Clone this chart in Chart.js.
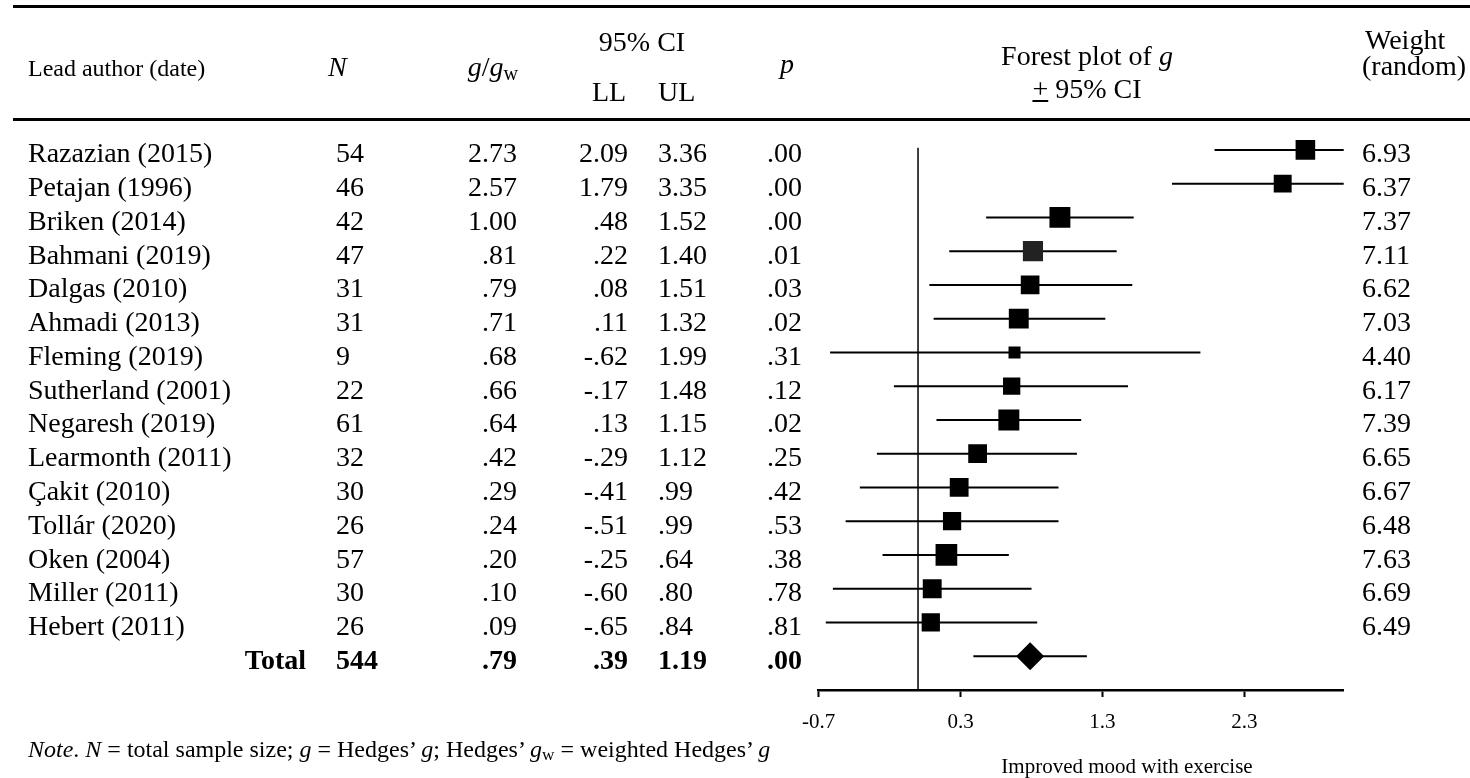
<!DOCTYPE html>
<html>
<head>
<meta charset="utf-8">
<title>Forest plot</title>
<script src="https://cdn.jsdelivr.net/npm/chart.js@4.4.1/dist/chart.umd.min.js"></script>
<style>
  html, body { margin: 0; padding: 0; background: #fff; }
  #page { position: relative; width: 1470px; height: 778px; overflow: hidden;
          font-family: "Liberation Serif", "Times New Roman", serif; color: #000; }
  #forest { position: absolute; left: 0; top: 0; }
  .t { position: absolute; white-space: nowrap; line-height: 1; }
  .sub { font-size: 0.72em; font-style: normal; vertical-align: -0.18em; }
  .rule { position: absolute; left: 13px; right: 0; height: 3px; background: #000; }
</style>
</head>
<body>
<div id="page">
  <div class="rule" style="top:5px"></div>
  <div class="rule" style="top:118px"></div>
  <canvas id="forest" width="1470" height="778"></canvas>
  <div id="labels"></div>
</div>
<script>
// study rows, top to bottom
const studyLabels = [
  'Razazian (2015)', 'Petajan (1996)', 'Briken (2014)', 'Bahmani (2019)',
  'Dalgas (2010)', 'Ahmadi (2013)', 'Fleming (2019)', 'Sutherland (2001)',
  'Negaresh (2019)', 'Learmonth (2011)', 'Çakit (2010)', 'Tollár (2020)',
  'Oken (2004)', 'Miller (2011)', 'Hebert (2011)',
];
const sampleSizes = [54, 46, 42, 47, 31, 31, 9, 22, 61, 32, 30, 26, 57, 30, 26];
const hedgesG = [2.73, 2.57, 1.00, .81, .79, .71, .68, .66, .64, .42, .29, .24, .20, .10, .09];
const lowerCI = [2.09, 1.79, .48, .22, .08, .11, -.62, -.17, .13, -.29, -.41, -.51, -.25, -.60, -.65];
const upperCI = [3.36, 3.35, 1.52, 1.40, 1.51, 1.32, 1.99, 1.48, 1.15, 1.12, .99, .99, .64, .80, .84];
const pValues = ['.00', '.00', '.00', '.01', '.03', '.02', '.31', '.12', '.02', '.25', '.42', '.53', '.38', '.78', '.81'];
const weights = [6.93, 6.37, 7.37, 7.11, 6.62, 7.03, 4.40, 6.17, 7.39, 6.65, 6.67, 6.48, 7.63, 6.69, 6.49];

// pooled (random effects) row
const totalN = 544;
const totalG = .79;
const totalLower = .39;
const totalUpper = 1.19;
const totalP = '.00';

const tickValues = [-0.7, 0.3, 1.3, 2.3];
const axisMin = -0.7;
const axisMax = 3.0;

const totalRow = studyLabels.length;

// APA style: drop the leading zero
const fmt = (v) => v.toFixed(2).replace(/^(-?)0\./, '$1.');

// square side grows with the study weight
const markerRadius = (w) => (12 + (w - 4.4) * 3.0) / Math.SQRT2;

const layer = document.getElementById('labels');
const put = (html, x, baseline, align = 'left', size = 28) => {
  const el = document.createElement('div');
  el.className = 't';
  el.innerHTML = html;
  el.style.fontSize = size + 'px';
  el.style.top = (baseline - 0.8375 * size) + 'px';
  if (align === 'right') {
    el.style.right = (1470 - x) + 'px';
  } else {
    el.style.left = x + 'px';
  }
  if (align === 'center') el.style.transform = 'translateX(-50%)';
  layer.appendChild(el);
};

// header
put('Lead author (date)', 28, 76, 'left', 24);
put('<i>N</i>', 328, 76);
put('<i>g</i>/<i>g<span class="sub">w</span></i>', 518, 76, 'right');
put('95% CI', 642, 51, 'center');
put('LL', 592, 101);
put('UL', 658, 101);
put('<i>p</i>', 780, 73);
put('Forest plot of <i>g</i>', 1087, 65, 'center');
put('<u>+</u> 95% CI', 1087, 98, 'center');
put('Weight', 1365, 49);
put('(random)', 1362, 75);

put('<i>Note</i>. <i>N</i> = total sample size; <i>g</i> = Hedges’ <i>g</i>; Hedges’ <i>g</i><span class="sub">w</span> = weighted Hedges’ <i>g</i>', 28, 757, 'left', 24);
put('Improved mood with exercise', 1127, 774, 'center', 21);

let rowsBuilt = false;
const tableRows = {
  id: 'tableRows',
  afterRender(chart) {
    if (rowsBuilt) return;
    rowsBuilt = true;
    const yScale = chart.scales.y;
    studyLabels.forEach((name, i) => {
      const base = yScale.getPixelForValue(i) + 13;
      put(name, 28, base);
      put(String(sampleSizes[i]), 336, base);
      put(fmt(hedgesG[i]), 517, base, 'right');
      put(fmt(lowerCI[i]), 628, base, 'right');
      put(fmt(upperCI[i]), 658, base);
      put(pValues[i], 802, base, 'right');
      put(weights[i].toFixed(2), 1362, base);
    });
    const base = yScale.getPixelForValue(totalRow) + 13;
    put('<b>Total</b>', 306, base, 'right');
    put('<b>' + totalN + '</b>', 336, base);
    put('<b>' + fmt(totalG) + '</b>', 517, base, 'right');
    put('<b>' + fmt(totalLower) + '</b>', 628, base, 'right');
    put('<b>' + fmt(totalUpper) + '</b>', 658, base);
    put('<b>' + totalP + '</b>', 802, base, 'right');
  },
};

const ciLines = lowerCI.map((lo, i) => ({
  data: [{ x: lo, y: i }, { x: upperCI[i], y: i }],
  showLine: true,
  borderColor: '#000',
  borderWidth: 2,
  pointRadius: 0,
}));

new Chart(document.getElementById('forest'), {
  type: 'scatter',
  data: {
    datasets: [
      {
        data: hedgesG.map((g, i) => ({ x: g, y: i })),
        pointStyle: 'rect',
        pointRadius: weights.map(markerRadius),
        backgroundColor: hedgesG.map((g, i) => (i === 3 ? '#222' : '#000')),
        borderWidth: 0,
      },
      {
        data: [{ x: totalG, y: totalRow }],
        pointStyle: 'rectRot',
        pointRadius: 14,
        backgroundColor: '#000',
        borderWidth: 0,
      },
      ...ciLines,
      {
        data: [{ x: totalLower, y: totalRow }, { x: totalUpper, y: totalRow }],
        showLine: true,
        borderColor: '#000',
        borderWidth: 2,
        pointRadius: 0,
      },
      {
        // line of no effect
        data: [{ x: 0, y: -0.06 }, { x: 0, y: 16 }],
        showLine: true,
        borderColor: '#000',
        borderWidth: 1.5,
        pointRadius: 0,
      },
    ],
  },
  options: {
    responsive: false,
    animation: false,
    events: [],
    layout: { padding: { left: 818.7, right: 126.3, top: 133, bottom: 48 } },
    plugins: { legend: { display: false }, tooltip: { enabled: false } },
    scales: {
      x: {
        type: 'linear',
        min: axisMin,
        max: axisMax,
        afterBuildTicks: (scale) => {
          scale.ticks = tickValues.map((v) => ({ value: v }));
        },
        afterFit: (scale) => {
          scale.height = 40;
        },
        ticks: {
          color: '#000',
          padding: 13,
          font: { family: '"Liberation Serif", serif', size: 21 },
          callback: (v) => Number(v).toFixed(1),
        },
        grid: {
          drawOnChartArea: false,
          drawTicks: true,
          tickLength: 7,
          tickWidth: 2,
          tickColor: '#000',
        },
        border: { display: true, color: '#000', width: 2.5 },
      },
      y: {
        type: 'linear',
        display: false,
        reverse: true,
        min: -0.5,
        max: 16,
      },
    },
  },
  plugins: [tableRows],
});
</script>
</body>
</html>
